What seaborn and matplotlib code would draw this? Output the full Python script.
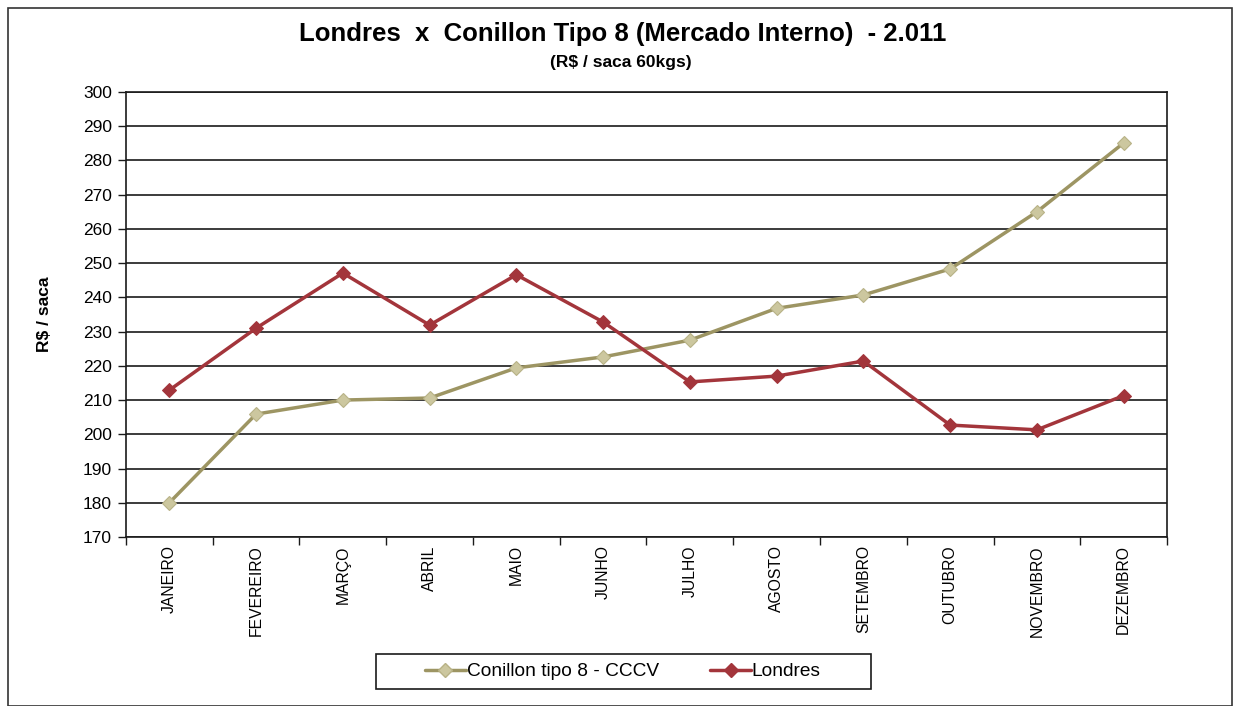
import matplotlib
matplotlib.use("Agg")
import matplotlib.pyplot as plt
from matplotlib.patches import Rectangle
from matplotlib.lines import Line2D
import seaborn as sns
import pandas as pd

months = ["JANEIRO", "FEVEREIRO", "MARÇO", "ABRIL", "MAIO", "JUNHO", "JULHO",
          "AGOSTO", "SETEMBRO", "OUTUBRO", "NOVEMBRO", "DEZEMBRO"]
conillon = [180.0, 205.9, 210.0, 210.6, 219.4, 222.6, 227.5, 236.8, 240.7, 248.3, 265.0, 285.1]
londres = [212.9, 231.0, 247.1, 231.9, 246.6, 232.8, 215.3, 217.0, 221.4, 202.7, 201.3, 211.3]
y_ticks = list(range(170, 301, 10))

sns.set_theme(style="white")
plt.rcParams['font.family'] = ['Liberation Sans', 'DejaVu Sans']
plt.rcParams['text.color'] = 'black'
plt.rcParams['xtick.color'] = 'black'
plt.rcParams['ytick.color'] = 'black'
plt.rcParams['axes.labelcolor'] = 'black'

fig = plt.figure(figsize=(12.41, 7.06), dpi=100)
ax = fig.add_axes([0.1015, 0.2394, 0.8389, 0.6303])

x = list(range(len(months)))
df = pd.DataFrame({"x": x * 2,
                   "v": conillon + londres,
                   "s": ["Conillon tipo 8 - CCCV"] * 12 + ["Londres"] * 12})

c_line = "#9d9563"
c_mark = "#ccc79f"
l_line = "#a3353b"

sns.lineplot(data=df[df.s == "Conillon tipo 8 - CCCV"], x="x", y="v", ax=ax,
             color=c_line, lw=2.5, marker="D", markersize=7.5,
             markerfacecolor=c_mark, markeredgecolor="#b8b286", markeredgewidth=0.8,
             legend=False, zorder=3)
sns.lineplot(data=df[df.s == "Londres"], x="x", y="v", ax=ax,
             color=l_line, lw=2.5, marker="D", markersize=7.5,
             markerfacecolor=l_line, markeredgecolor=l_line,
             legend=False, zorder=4)

ax.set_xlim(-0.5, 11.5)
ax.set_ylim(170, 300)
ax.set_yticks(y_ticks)
ax.set_yticklabels([str(t) for t in y_ticks], fontsize=12.5)
ax.yaxis.grid(True, color="#1a1a1a", lw=1.2)
ax.set_axisbelow(True)

ax.set_xticks(x)
ax.set_xticklabels(months, rotation=90, fontsize=11.3, va="top")
ax.set_xticks([i - 0.5 for i in range(13)], minor=True)
ax.tick_params(axis="x", which="major", length=0, pad=6)
ax.tick_params(axis="x", which="minor", length=6, width=1, color="#1a1a1a", direction="out", bottom=True)
ax.tick_params(axis="y", which="major", length=6, width=1, color="#1a1a1a", direction="out", left=True, pad=4)

for sp in ax.spines.values():
    sp.set_color("#1a1a1a")
    sp.set_linewidth(1.2)

ax.set_xlabel("")
ax.set_ylabel("R$ / saca", fontsize=12.5, fontweight="bold", labelpad=22)

fig.text(0.502, 0.952, "Londres  x  Conillon Tipo 8 (Mercado Interno)  - 2.011",
         ha="center", va="center", fontsize=18.5, fontweight="bold")
fig.text(0.5, 0.912, "(R$ / saca 60kgs)", ha="center", va="center",
         fontsize=12.5, fontweight="bold")

handles = [Line2D([0], [0], color=c_line, lw=2.5, marker="D", markersize=7.5,
                  markerfacecolor=c_mark, markeredgecolor="#b8b286"),
           Line2D([0], [0], color=l_line, lw=2.5, marker="D", markersize=7.5,
                  markerfacecolor=l_line, markeredgecolor=l_line)]
leg = fig.legend(handles, ["Conillon tipo 8 - CCCV", "Londres"], ncol=2,
                 loc="center", bbox_to_anchor=(0.502, 0.0488), fontsize=13.8,
                 frameon=False, handlelength=2.1, handletextpad=0.05,
                 columnspacing=2.7)

fig.patches.append(Rectangle((376 / 1241, 1 - 689 / 706), 495 / 1241, 35 / 706,
                             transform=fig.transFigure, fill=False,
                             edgecolor="#1a1a1a", lw=1.2))
fig.patches.append(Rectangle((8 / 1241, 0.0), 1224 / 1241, 698 / 706,
                             transform=fig.transFigure, fill=False,
                             edgecolor="#333333", lw=1.2))

fig.savefig("out.png", dpi=100)
